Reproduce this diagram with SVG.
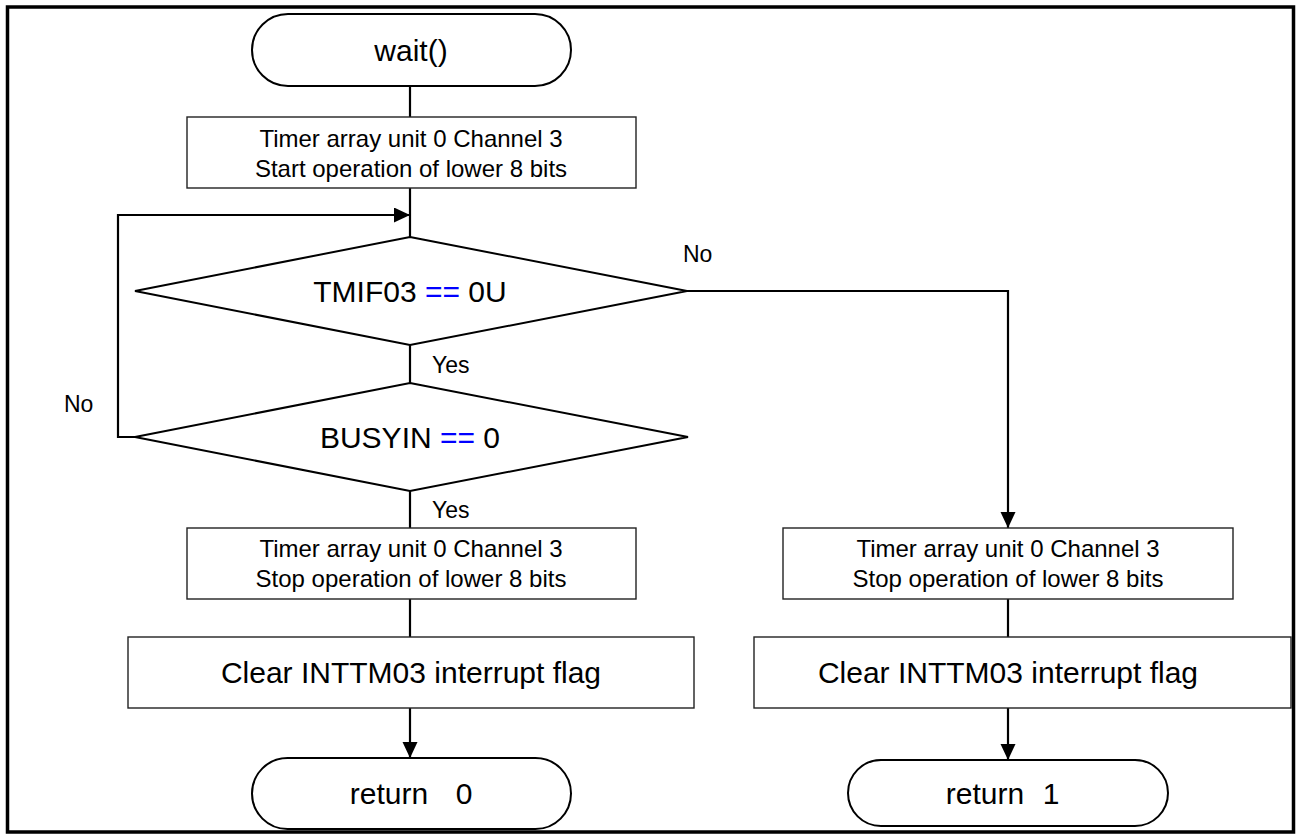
<svg xmlns="http://www.w3.org/2000/svg" width="1298" height="835" viewBox="0 0 1298 835">
<style>
text{font-family:"Liberation Sans",Arial,sans-serif;fill:#000;text-anchor:middle}
.box{fill:#fff;stroke:#222;stroke-width:1.4}
.term{fill:#fff;stroke:#000;stroke-width:2}
.dia{fill:#fff;stroke:#000;stroke-width:2}
.con{fill:none;stroke:#000;stroke-width:2.2}
.t24{font-size:24px}
.t30{font-size:30px}
.lbl{font-size:23px;text-anchor:start}
.op{fill:#0000ff}
</style>
<defs>
<marker id="arr" markerUnits="userSpaceOnUse" markerWidth="17" markerHeight="16" refX="16" refY="7.5" orient="auto">
<path d="M0,0 L16,7.5 L0,15 z" fill="#000"/>
</marker>
</defs>
<rect x="7.5" y="7" width="1286" height="825" fill="#fff" stroke="#000" stroke-width="3.5"/>
<g id="connectors">
<line class="con" x1="410" y1="86" x2="410" y2="117"/>
<line class="con" x1="410" y1="188" x2="410" y2="237"/>
<polyline class="con" points="135,437 118,437 118,215 410,215" marker-end="url(#arr)"/>
<line class="con" x1="410" y1="345" x2="410" y2="383"/>
<line class="con" x1="410" y1="491" x2="410" y2="528"/>
<polyline class="con" points="687,291 1008,291 1008,528" marker-end="url(#arr)"/>
<line class="con" x1="410" y1="599" x2="410" y2="637"/>
<line class="con" x1="410" y1="708" x2="410" y2="758" marker-end="url(#arr)"/>
<line class="con" x1="1008" y1="599" x2="1008" y2="637"/>
<line class="con" x1="1008" y1="708" x2="1008" y2="760" marker-end="url(#arr)"/>
<text class="lbl" x="683" y="262">No</text>
<text class="lbl" x="64" y="412">No</text>
<text class="lbl" x="432" y="373">Yes</text>
<text class="lbl" x="432" y="518">Yes</text>
</g>
<g id="start">
<rect class="term" x="252" y="14" width="319" height="72" rx="36"/>
<text class="t30" x="411" y="61">wait()</text>
</g>
<g id="startTimer">
<rect class="box" x="187" y="117" width="449" height="71"/>
<text class="t24" x="411" y="147">Timer array unit 0 Channel 3</text>
<text class="t24" x="411" y="177">Start operation of lower 8 bits</text>
</g>
<g id="checkTMIF">
<polygon class="dia" points="410,237 687,291 410,345 135,291"/>
<text class="t30" x="410" y="302">TMIF03 <tspan class="op">==</tspan> 0U</text>
</g>
<g id="checkBUSY">
<polygon class="dia" points="410,383 688,437 410,491 135,437"/>
<text class="t30" x="410" y="448">BUSYIN <tspan class="op">==</tspan> 0</text>
</g>
<g id="stopTimerL">
<rect class="box" x="187" y="528" width="449" height="71"/>
<text class="t24" x="411" y="557">Timer array unit 0 Channel 3</text>
<text class="t24" x="411" y="587">Stop operation of lower 8 bits</text>
</g>
<g id="clearL">
<rect class="box" x="128" y="637" width="566" height="71"/>
<text class="t30" x="411" y="683">Clear INTTM03 interrupt flag</text>
</g>
<g id="return0">
<rect class="term" x="252" y="758" width="319" height="71" rx="35.5"/>
<text class="t30" x="389" y="804">return</text>
<text class="t30" x="464" y="804">0</text>
</g>
<g id="stopTimerR">
<rect class="box" x="783" y="528" width="450" height="71"/>
<text class="t24" x="1008" y="557">Timer array unit 0 Channel 3</text>
<text class="t24" x="1008" y="587">Stop operation of lower 8 bits</text>
</g>
<g id="clearR">
<rect class="box" x="754" y="637" width="537" height="71"/>
<text class="t30" x="1008" y="683">Clear INTTM03 interrupt flag</text>
</g>
<g id="return1">
<rect class="term" x="848" y="760" width="320" height="66" rx="33"/>
<text class="t30" x="985" y="804">return</text>
<text class="t30" x="1051" y="804">1</text>
</g>
</svg>
